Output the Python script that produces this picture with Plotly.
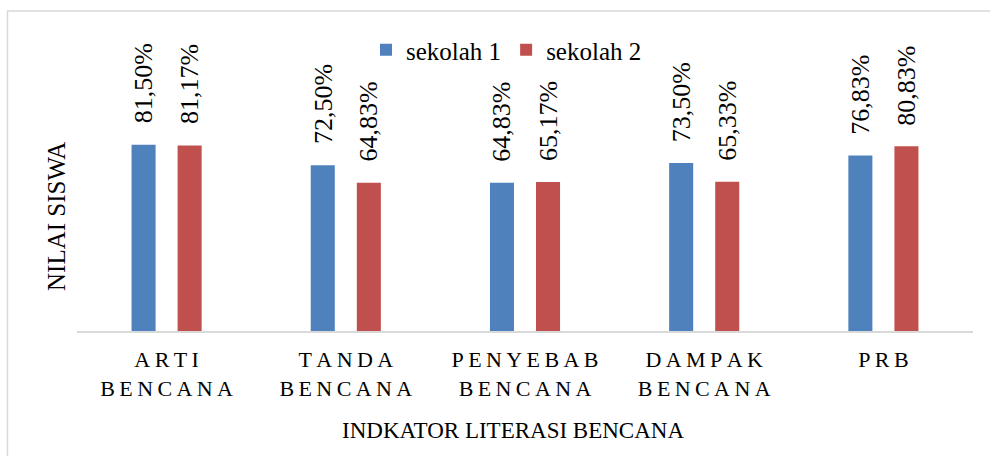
import plotly.graph_objects as go

categories = ["ARTI<br>BENCANA", "TANDA<br>BENCANA", "PENYEBAB<br>BENCANA", "DAMPAK<br>BENCANA", "PRB"]
sekolah1 = [81.50, 72.50, 64.83, 73.50, 76.83]
sekolah2 = [81.17, 64.83, 65.17, 65.33, 80.83]
series_names = ["sekolah 1", "sekolah 2"]
colors = ["#4f81bd", "#c0504d"]

FONT = "Liberation Serif"
TS = "\u2009"

def spaced(label):
    return "<br>".join(TS.join(list(line)) for line in label.split("<br>"))

tick_text = [spaced(c) for c in categories]

def fmt(v):
    return ("%.2f" % v).replace(".", ",") + "%"

fig = go.Figure()
for name, vals, col in zip(series_names, [sekolah1, sekolah2], colors):
    fig.add_trace(go.Bar(x=categories, y=vals, name=name, marker=dict(color=col, line=dict(width=0))))

annotations = []
for vals, shift in [(sekolah1, -23), (sekolah2, 23)]:
    for c, v in zip(categories, vals):
        annotations.append(dict(x=c, y=v, xref="x", yref="y", text=fmt(v), showarrow=False,
                                textangle=-90, xanchor="center", yanchor="bottom",
                                xshift=shift, yshift=19,
                                font=dict(family=FONT, size=26, color="#000000")))

annotations.append(dict(x=(513 - 77) / 896, y=(331 - 430) / 320, xref="paper", yref="paper",
                        text="INDKATOR LITERASI BENCANA", showarrow=False,
                        xanchor="center", yanchor="middle",
                        font=dict(family=FONT, size=23, color="#000000")))
annotations.append(dict(x=(56 - 77) / 896, y=(331 - 217) / 320, xref="paper", yref="paper",
                        text="NILAI SISWA", showarrow=False, textangle=-90,
                        xanchor="center", yanchor="middle",
                        font=dict(family=FONT, size=25, color="#000000")))

fig.update_layout(
    width=990, height=456,
    margin=dict(l=77, r=17, t=11, b=125),
    paper_bgcolor="white", plot_bgcolor="white",
    barmode="group", bargap=0.486, bargroupgap=0.478,
    showlegend=True,
    legend=dict(orientation="h", x=(366 - 77) / 896, y=(331 - 50) / 320,
                xanchor="left", yanchor="middle",
                font=dict(family=FONT, size=25, color="#000000"),
                bgcolor="rgba(0,0,0,0)"),
    xaxis=dict(tickmode="array", tickvals=categories, ticktext=tick_text,
               showline=True, linecolor="#d9d9d9", linewidth=1.5,
               showgrid=False, ticks="", ticklabelstandoff=8,
               tickfont=dict(family=FONT, size=22, color="#000000")),
    yaxis=dict(range=[0, 140], visible=False, showgrid=False, zeroline=False),
    annotations=annotations,
    shapes=[dict(type="rect", xref="paper", yref="paper",
                 x0=(7.5 - 77) / 896, x1=(995 - 77) / 896,
                 y0=(331 - 460) / 320, y1=(331 - 11) / 320,
                 line=dict(color="#d9d9d9", width=1.5), layer="below")],
)

fig.write_html("out.html", config={"displayModeBar": False},
               post_script="document.body.style.margin='0px';document.body.style.overflow='hidden';")
